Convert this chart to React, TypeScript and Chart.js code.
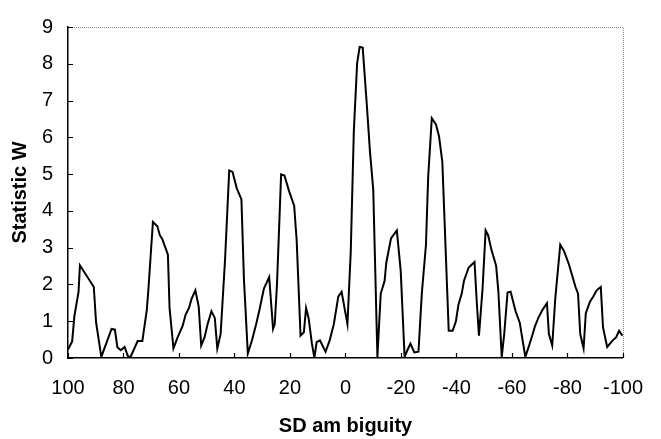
import React, { useEffect, useRef } from "react";
import { Chart, registerables } from "chart.js";

Chart.register(...registerables);

const sdAmbiguity = [
  100, 98.5, 97.7, 96.2, 95.7, 90.7, 89.9, 88, 84.3, 83.1, 82.2, 81, 79.6, 78.4, 77.5, 74.9, 73.2,
  71.6, 71, 69.4, 67.8, 66.9, 66, 64, 63.4, 62, 60.5, 58.7, 57.6, 56.4, 55.5, 54.1, 52.9, 52, 50.8,
  49.7, 48.3, 47.1, 46.2, 45, 43.4, 41.9, 40.7, 39.2, 37.5, 36.6, 35.2, 33.7, 32.2, 31, 29.4, 27.5,
  26.1, 25.5, 24.7, 23.2, 22, 20.3, 18.5, 17.6, 16.2, 15, 14.2, 13.3, 12.1, 11.2, 10.4, 9.2, 7.2,
  5.7, 4.2, 2.6, 1.4, -0.7, -1.9, -3, -4.2, -5.1, -6.2, -7.7, -8.8, -10, -11.5, -12.7, -14.1, -14.7,
  -16.4, -18.5, -19.9, -21.3, -22.3, -23.4, -24.8, -26.3, -27.5, -29, -29.8, -31.1, -32.6, -33.7,
  -34.9, -37.2, -38.6, -39.8, -40.7, -41.9, -42.7, -44.4, -46.5, -47.3, -48.1, -49.4, -50.5, -51.4,
  -52.6, -54.3, -55.1, -56.3, -57.2, -58.4, -59.5, -61.3, -62.8, -64.8, -66, -67.3, -68.3, -69.5,
  -71, -72.6, -73.3, -74.5, -75.6, -77.4, -78.8, -80.5, -82.9, -83.8, -84.6, -85.8, -86.6, -88.1,
  -89.3, -90.5, -92, -92.8, -94.3, -96.3, -97.5, -98.6, -99.8,
];

const statisticW = [
  0.23, 0.45, 1.14, 1.8, 2.52, 1.93, 0.98, 0.03, 0.79, 0.77, 0.29, 0.21, 0.3, 0.05, 0.02, 0.46, 0.46,
  1.31, 1.89, 3.7, 3.58, 3.34, 3.23, 2.81, 1.36, 0.26, 0.56, 0.87, 1.18, 1.36, 1.6, 1.84, 1.4, 0.34, 0.56,
  0.92, 1.27, 1.09, 0.26, 0.65, 2.68, 5.1, 5.06, 4.62, 4.31, 2.15, 0.12, 0.48, 0.92, 1.31, 1.89, 2.2,
  0.79, 0.92, 1.98, 4.99, 4.96, 4.53, 4.14, 3.21, 0.61, 0.7, 1.36, 1.09, 0.39, 0.0, 0.43, 0.48, 0.17,
  0.48, 0.92, 1.67, 1.8, 0.92, 2.9, 6.16, 8.02, 8.46, 8.44, 6.87, 5.63, 4.58, 0.03, 1.75, 2.1, 2.59,
  3.25, 3.47, 2.37, 0.03, 0.21, 0.39, 0.15, 0.17, 1.75, 3.08, 4.93, 6.52, 6.35, 6.03,
  5.33, 0.74, 0.74, 1.0, 1.45, 1.75, 2.1, 2.46, 2.61, 1.53, 0.61, 1.89, 3.47, 3.34,
  2.94, 2.5, 1.8, 0.03, 0.65, 1.78, 1.8, 1.27, 0.96, 0.03, 0.3, 0.61, 0.87, 1.09,
  1.31, 1.49, 0.65, 0.34, 1.62, 3.08, 2.9, 2.55, 1.93, 1.75, 0.65, 0.26, 1.22, 1.53,
  1.67, 1.84, 1.93, 0.83, 0.3, 0.48, 0.56, 0.74, 0.61,
];

const xTitle = "SD am biguity";
const yTitle = "Statistic W";

const FONT = "'Liberation Sans', Arial, Helvetica, sans-serif";

const innerTicks = {
  id: "innerTicks",
  afterDraw(chart: any) {
    const { ctx, chartArea, scales } = chart;
    const { left, right, top, bottom } = chartArea;
    ctx.save();
    ctx.strokeStyle = "#8a8a8a";
    ctx.lineWidth = 1;
    ctx.setLineDash([1, 1]);
    ctx.beginPath();
    ctx.moveTo(left, top + 0.5);
    ctx.lineTo(right + 0.5, top + 0.5);
    ctx.lineTo(right + 0.5, bottom);
    ctx.stroke();
    ctx.setLineDash([]);
    ctx.strokeStyle = "#000";
    ctx.lineWidth = 1.2;
    ctx.beginPath();
    scales.x.ticks.forEach((t: any) => {
      const px = Math.round(scales.x.getPixelForValue(t.value)) + 0.5;
      ctx.moveTo(px, bottom);
      ctx.lineTo(px, bottom - 5);
    });
    scales.y.ticks.forEach((t: any) => {
      const py = Math.round(scales.y.getPixelForValue(t.value)) + 0.5;
      ctx.moveTo(left, py);
      ctx.lineTo(left + 5, py);
    });
    ctx.stroke();
    ctx.restore();
  },
};

export default function App() {
  const ref = useRef<HTMLCanvasElement | null>(null);

  useEffect(() => {
    document.body.style.margin = "0";
    const canvas = ref.current;
    if (!canvas) return;
    const points = sdAmbiguity.map((x, i) => ({ x, y: statisticW[i] }));
    const chart = new Chart(canvas, {
      type: "scatter",
      data: {
        datasets: [
          {
            data: points,
            showLine: true,
            borderColor: "#000",
            borderWidth: 2,
            pointRadius: 0,
            tension: 0,
          },
        ],
      },
      options: {
        responsive: false,
        animation: false,
        layout: { padding: { top: 18, right: 22, left: 0, bottom: 0 } },
        plugins: { legend: { display: false }, tooltip: { enabled: false } },
        scales: {
          x: {
            type: "linear",
            min: -100,
            max: 100,
            reverse: true,
            grid: { display: false, drawTicks: false },
            border: { display: true, color: "#000", width: 1.5 },
            ticks: {
              stepSize: 20,
              padding: 18,
              color: "#000",
              font: { family: FONT, size: 20 },
              maxRotation: 0,
            },
            title: {
              display: true,
              text: xTitle,
              color: "#000",
              font: { family: FONT, size: 20, weight: "bold" },
              padding: { top: 0, bottom: 1 },
            },
            afterFit: (s: any) => {
              s.height = 81;
            },
          },
          y: {
            min: 0,
            max: 9,
            grid: { display: false, drawTicks: false },
            border: { display: true, color: "#000", width: 1.5 },
            ticks: {
              stepSize: 1,
              padding: 15,
              color: "#000",
              font: { family: FONT, size: 20 },
            },
            title: {
              display: true,
              text: yTitle,
              color: "#000",
              font: { family: FONT, size: 20, weight: "bold" },
              padding: { top: 8, bottom: 0 },
            },
            afterFit: (s: any) => {
              s.width = 68;
            },
          },
        },
      },
      plugins: [innerTicks],
    });
    return () => chart.destroy();
  }, []);

  return <canvas ref={ref} width={661} height={439} style={{ display: "block" }} />;
}
